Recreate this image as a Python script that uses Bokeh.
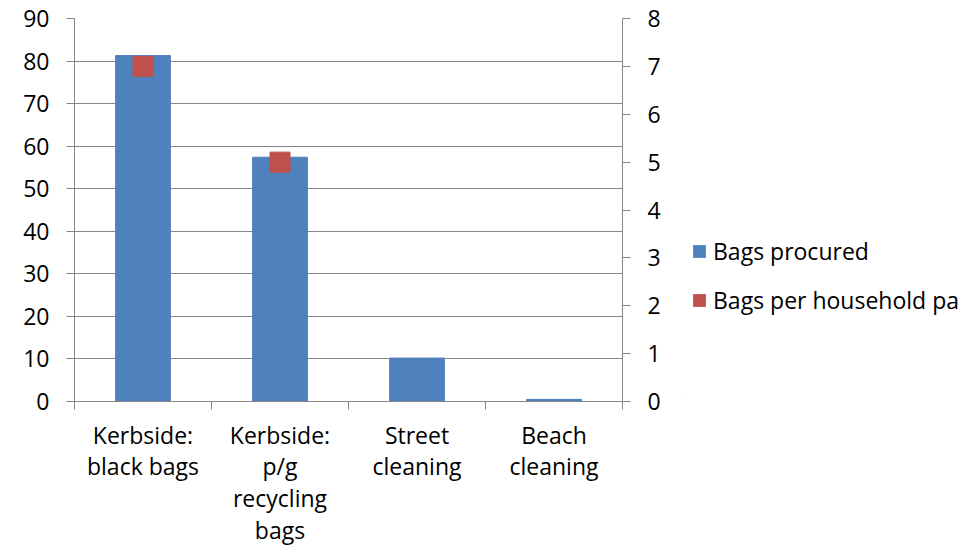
from bokeh.plotting import figure
from bokeh.layouts import row
from bokeh.models import (Range1d, LinearAxis, FixedTicker, Legend, LegendItem, ColumnDataSource, Grid)
from bokeh.embed import file_html
from bokeh.resources import INLINE

categories = ["Kerbside:\nblack bags", "Kerbside:\np/g\nrecycling\nbags", "Street\ncleaning", "Beach\ncleaning"]
bags_procured = [81.3, 57.4, 10.2, 0.5]
bags_per_household = [7.0, 5.0, None, None]
left_ticks = [0, 10, 20, 30, 40, 50, 60, 70, 80, 90]
right_ticks = [0, 1, 2, 3, 4, 5, 6, 7, 8]
series_names = ["Bags procured", "Bags per household pa"]

FONT = "Open Sans"
FS = "23px"
GRID = "#868686"
BLUE = "#4F81BD"
RED = "#C0504D"

centers = [i + 0.5 for i in range(len(categories))]
bar_src = ColumnDataSource(dict(x=centers, top=bags_procured))
mx = [c for c, v in zip(centers, bags_per_household) if v is not None]
my = [v for v in bags_per_household if v is not None]
mk_src = ColumnDataSource(dict(x=mx, y=my))

p = figure(frame_width=548, frame_height=383, output_backend="svg", toolbar_location=None,
           x_range=Range1d(0, len(categories)), y_range=Range1d(0, 90),
           x_axis_location=None, y_axis_location=None,
           min_border_left=74, min_border_right=60, min_border_top=18, min_border_bottom=145)
p.center = []
p.outline_line_color = None
p.background_fill_color = "white"
p.border_fill_color = "white"
p.extra_y_ranges = {"right": Range1d(0, 8)}

la = LinearAxis(ticker=FixedTicker(ticks=left_ticks, minor_ticks=[]))
ra = LinearAxis(y_range_name="right", ticker=FixedTicker(ticks=right_ticks, minor_ticks=[]))
for ax in (la, ra):
    ax.axis_line_color = GRID
    ax.major_tick_line_color = GRID
    ax.major_tick_out = 8
    ax.major_tick_in = 0
    ax.minor_tick_line_color = None
    ax.major_label_text_font = FONT
    ax.major_label_text_font_size = FS
    ax.major_label_text_color = "black"
    ax.major_label_standoff = 17
p.add_layout(la, "left")
p.add_layout(ra, "right")

xa = LinearAxis(ticker=FixedTicker(ticks=centers, minor_ticks=list(range(len(categories) + 1))))
xa.major_label_overrides = {c: lab for c, lab in zip(centers, categories)}
xa.axis_line_color = GRID
xa.major_tick_line_color = None
xa.major_tick_out = 0
xa.major_tick_in = 0
xa.minor_tick_line_color = GRID
xa.minor_tick_out = 8
xa.minor_tick_in = 0
xa.major_label_text_font = FONT
xa.major_label_text_font_size = FS
xa.major_label_text_color = "black"
xa.major_label_text_line_height = 0.99
xa.major_label_standoff = 9
p.add_layout(xa, "below")

g = Grid(dimension=1, ticker=la.ticker, grid_line_color=GRID, grid_line_width=1)
p.add_layout(g)

p.vbar(x="x", top="top", width=0.4, source=bar_src, fill_color=BLUE, line_color=BLUE)
p.rect(x="x", y="y", width=20, height=20, width_units="screen", height_units="screen",
       source=mk_src, y_range_name="right", fill_color=RED, line_color=RED)

# legend panel (same series, drawn out of view so only the legend shows)
lp = figure(width=284, height=546, output_backend="svg", toolbar_location=None,
            x_range=Range1d(100, 101), y_range=Range1d(1000, 1001),
            x_axis_location=None, y_axis_location=None,
            min_border=0)
lp.center = []
lp.outline_line_color = None
lp.border_fill_color = "white"
lp.background_fill_color = "white"
lp.extra_y_ranges = {"right": Range1d(1000, 1001)}
lbars = lp.vbar(x="x", top="top", width=0.4, source=bar_src, fill_color=BLUE, line_color=None)
lmarks = lp.rect(x="x", y="y", width=20, height=20, width_units="screen", height_units="screen",
                 source=mk_src, y_range_name="right", fill_color=RED, line_color=None)

legend = Legend(items=[LegendItem(label=series_names[0], renderers=[lbars]),
                       LegendItem(label=series_names[1], renderers=[lmarks])],
                location=(9, 83), padding=0, margin=0, spacing=17,
                glyph_width=16, glyph_height=16, label_standoff=6,
                label_text_font=FONT, label_text_font_size=FS, label_text_color="black",
                background_fill_alpha=0, border_line_color=None)
lp.add_layout(legend)

layout = row(p, lp, spacing=0)
open("out.html", "w").write(file_html(layout, INLINE))
